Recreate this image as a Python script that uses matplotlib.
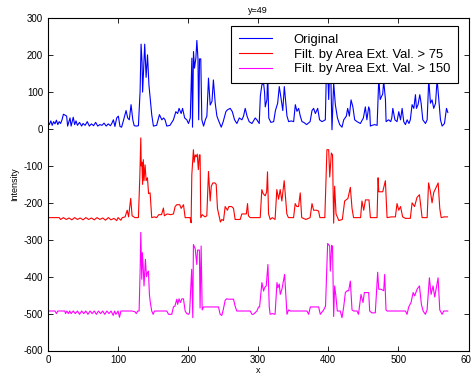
import matplotlib
matplotlib.use("Agg")
import matplotlib.pyplot as plt

plt.rcParams['font.family'] = ['Liberation Sans', 'DejaVu Sans']
plt.rcParams['axes.unicode_minus'] = False

# profile along the line y=49
orig_x = [0, 2, 4, 6, 8, 10, 12, 14, 16, 18, 20, 22, 24, 26.6, 28, 31.4, 33, 36, 38, 40,
          42, 45, 48, 50, 53, 56, 59, 62, 65, 68, 71, 74, 77, 80, 83, 86, 89, 91, 93.3, 95.5,
          98, 100.4, 102.7, 105, 107.5, 111.4, 113.7, 116, 118.5, 121, 123, 126, 129, 131.4, 132.8, 134.2, 135, 136.6, 138, 140,
          142, 144, 146, 148, 150.4, 155, 159, 162.4, 165, 167, 169.5, 174, 179, 182.4, 185, 187, 190, 192, 195, 198,
          200.5, 203, 205.3, 206.2, 207.6, 209, 211, 212.4, 214, 215, 216.2, 218, 219.5, 222, 224.5, 226.7, 229, 231.4, 234, 236,
          238.6, 241, 244, 247.2, 250, 253.8, 256, 260, 263, 266.2, 269.5, 273, 276.7, 279, 281.4, 284, 287, 291, 295.7, 298,
          301.4, 303, 305.2, 307.6, 309, 310, 312.4, 313.5, 315, 318, 322, 324.5, 327.7, 330, 332.4, 335, 337.2, 338.6, 341, 343.4,
          347, 350.5, 352.9, 355.2, 357.6, 360, 362.4, 365, 369, 374, 376.7, 379, 381.5, 384.8, 387.5, 391, 395.7, 398, 400.5, 402.8,
          405.2, 407.6, 410, 413, 416.2, 419.5, 422, 425.7, 427.6, 430, 432.4, 435, 437.6, 441, 445.7, 450, 452.8, 455, 457.6, 459,
          460, 462.4, 466, 469.6, 472, 474, 477.6, 479, 481.5, 482.4, 486, 489, 490.5, 492, 495, 498, 500.5, 503, 505.3, 507.6,
          510, 512.4, 515, 517, 519.5, 522, 524.3, 525.7, 528, 530.5, 532.4, 534.8, 538.6, 541, 543.3, 545.7, 548, 550.4, 553, 555.2,
          557.6, 560, 562.4, 565.7, 568.6, 570.5]
orig_v = [18, 12, 22, 10, 20, 14, 24, 12, 20, 15, 25, 40, 38, 35, 8, 30, 8, 32, 12, 22,
          10, 18, 8, 15, 10, 20, 8, 14, 9, 18, 8, 12, 10, 16, 8, 14, 9, 15, 25, 7,
          30, 35, 7, 5, 22, 50, 30, 25, 66, 25, 9, 8, 9, 102, 230, 180, 100, 170, 230, 140,
          201, 120, 79, 39, 8, 10, 39, 25, 30, 25, 8, 10, 25, 47, 42, 56, 42, 56, 30, 25,
          15, 30, 192, 5, 210, 165, 192, 240, 190, 25, 190, 190, 25, 8, 25, 35, 138, 65, 75, 133,
          70, 35, 20, 5, 20, 47, 52, 56, 47, 25, 15, 30, 25, 35, 56, 35, 20, 15, 30, 25,
          15, 90, 120, 124, 100, 60, 80, 150, 30, 18, 20, 50, 70, 115, 85, 50, 115, 85, 35, 20,
          22, 20, 66, 48, 56, 35, 20, 18, 12, 20, 50, 56, 42, 56, 25, 20, 25, 220, 80, 210,
          -2, 125, 66, 30, 12, 5, 25, 35, 56, 35, 79, 60, 25, 20, 15, 30, 60, 25, 60, 52,
          8, 10, 12, 10, 140, 80, 95, 130, 80, 20, 25, 20, 30, 56, 25, 20, 47, 25, 56, 20,
          12, 25, 15, 25, 66, 56, 93, 56, 66, 93, 70, 25, 15, 25, 135, 70, 79, 56, 70, 135,
          79, 25, 8, 15, 56, 45]

filt75_x = [0, 16, 18, 22, 26, 30, 34, 38, 42, 46, 50, 54, 58, 62, 66, 70, 74, 78, 82, 86,
            90, 94, 98, 100, 104, 106, 110, 113, 115, 118, 120, 124, 129, 131, 132.4, 133, 134, 135, 136, 137,
            138.5, 140, 141.9, 143.5, 145.7, 148, 152, 155, 158, 162, 164.7, 166, 170, 175, 179, 181.4, 183.8, 188, 190, 193.3,
            195.7, 200, 202.8, 204.2, 205.2, 207.5, 208.5, 210, 211.5, 213, 214.5, 216, 217, 218, 220, 224, 226.6, 229, 231.4, 233,
            235.2, 238, 240, 241.8, 244, 246, 248, 250.4, 252.8, 256, 258, 262, 264.7, 267, 270, 274.2, 276.6, 280, 283, 284.7,
            286, 288.5, 295, 302.8, 305.1, 307, 309.9, 312, 313.2, 314.7, 317, 320, 324, 326.5, 329, 331.3, 333.7, 337, 340.8, 343,
            347, 350.4, 352.7, 355, 357.5, 359.9, 362, 368, 374, 376.7, 379, 383, 386, 388, 395, 398, 400.5, 402, 404.3, 406,
            407.6, 409, 411, 415, 420, 423.3, 428, 431.4, 433.8, 436, 441, 446, 448, 450.5, 453, 458, 460, 465, 469.5, 471,
            472, 477.6, 481.4, 483.8, 490, 495.7, 498, 500.5, 503, 506, 510, 517, 519.5, 523, 526.6, 530, 533.8, 538, 541, 543,
            545.7, 548, 550.4, 556.7, 559, 561, 565, 570]
filt75_v = [10, 10, 5, 10, 5, 9, 4, 10, 5, 9, 4, 10, 5, 9, 4, 10, 5, 9, 3, 10,
            4, 8, 2, 10, 3, 10, 12, 30, 12, 62, 15, 10, 10, 120, 226, 150, 160, 100, 167, 110,
            153, 110, 118, 75, 77, 10, 12, 10, 18, 18, 36, 15, 20, 18, 20, 40, 45, 45, 35, 45,
            10, 10, 10, -4, 126, 194, 160, 180, 175, 182, 140, 180, 180, 10, 18, 12, 15, 135, 55, 95,
            104, 104, 100, 35, 15, -2, 5, 2, 40, 30, 40, 40, 35, 5, 5, 5, 20, 20, 20, 48,
            15, 10, 10, 10, 86, 75, 69, 80, 134, 20, 5, 10, 5, 86, 60, 86, 55, 110, 20, 10,
            10, 10, 48, 40, 40, 77, 10, 5, 10, 48, 30, 30, 28, 10, 10, 194, 194, 120, 185, 180,
            -5, 95, 20, 2, 5, 55, 62, 92, 35, 10, 10, 10, 55, 30, 58, 58, 10, 10, 10, 118,
            80, 80, 110, 10, 12, 12, 48, 30, 40, 12, 8, 8, 50, 40, 65, 72, 10, 10, 10, 104,
            80, 50, 78, 104, 35, 10, 12, 12]

filt150_x = [0, 10, 12, 14, 20, 24, 25, 27, 29, 31, 33, 36, 39, 42, 45, 48, 51, 54, 57, 60,
             63, 66, 69, 72, 75, 78, 81, 84, 87, 90, 93, 95, 97, 100, 102, 104, 106, 120, 124, 126,
             128, 130, 131.5, 132.4, 133.8, 134.7, 136, 137, 139, 140.5, 142, 143.3, 144.7, 146, 148, 150, 152, 169.5, 172, 176.6,
             179, 181, 183.8, 185, 187, 189, 191, 193.3, 195.7, 198, 200.4, 202, 205, 206.6, 207.5, 210, 212.3, 213.3, 216, 217,
             218.5, 220, 221.9, 243.3, 245.6, 248, 250, 252.8, 255, 257.5, 262, 264.7, 267, 269.4, 288.5, 291, 293, 298, 300.5, 301.9,
             303, 305.2, 307.6, 309, 311.4, 313.8, 315.7, 317, 320, 324, 326.7, 328, 330, 331.4, 333.8, 337.6, 341, 343.3, 345.7, 369.5,
             371.9, 374.3, 386.2, 388.5, 393.3, 396, 399, 401.9, 402.8, 404.8, 406, 407.6, 409, 410.9, 412.8, 417, 419.5, 421.9, 424.3, 427,
             429, 431.4, 433.8, 436, 441, 443, 446.6, 449.5, 451.4, 457.6, 459, 462, 467, 470.4, 471.9, 475, 479, 480.4, 482.3, 483.7,
             510, 512.3, 514.7, 518, 521, 523.2, 526.6, 530, 532.8, 535.2, 538.5, 540.9, 544.2, 546.6, 549.4, 551.8, 556.6, 559, 562.3, 564.7,
             570.4]
filt150_v = [7, 7, 0, 7, 7, 7, 0, 7, 0, 7, 0, 7, 0, 7, -2, 7, 0, 7, -2, 7,
             0, 7, -2, 7, 0, 7, -2, 7, 0, 7, -5, 7, -2, 7, -10, 7, 7, 7, 5, 0,
             7, 7, 120, 220, 93, 165, 120, 75, 147, 100, 111, 115, 52, 30, 7, -2, 7, 7, -2, -2,
             18, 20, 39, 25, 40, 30, 40, 40, 7, 0, -2, 2, 120, -11, 187, 176, 133, 172, 172, 15,
             183, 10, 18, 18, -2, -5, 10, 36, 40, 39, 39, 39, 20, 7, 7, -2, -2, 7, 18, 18,
             40, 84, 61, 70, 75, 133, 18, -2, 0, -2, 84, 70, 80, 52, 66, 106, -2, 10, 7, 7,
             -2, 18, 18, -2, 10, 20, 190, 183, 115, 185, 180, -8, 75, 45, 7, 7, -11, 18, 57, 62,
             62, 88, 10, 7, 7, -2, 52, 30, 57, 57, 7, 2, 2, 112, 66, 66, 62, 106, 10, 7,
             7, -2, 18, 30, 57, 48, 66, 75, 25, 7, -2, 10, 97, 52, 75, 45, 97, 10, -2, 7,
             7]

labels = ['Original', 'Filt. by Area Ext. Val. > 75', 'Filt. by Area Ext. Val. > 150']
offsets = [0, -250, -500]

fig = plt.figure(figsize=(4.71, 3.75), dpi=100)
ax = fig.add_axes([48 / 471, 1 - 350.5 / 375, 420.5 / 471, 332.2 / 375])

series = [(orig_x, orig_v, '#0000ff'), (filt75_x, filt75_v, '#ff0000'), (filt150_x, filt150_v, '#ff00ff')]
for (xs, vs, c), off, lab in zip(series, offsets, labels):
    ax.plot(xs, [v + off for v in vs], color=c, lw=0.8, label=lab)

ax.set_xlim(0, 600)
ax.set_ylim(-600, 300)
ax.set_xticks(range(0, 601, 100))
ax.set_yticks(range(-600, 301, 100))
ax.tick_params(direction='in', top=True, right=True, labelsize=7, length=3.5, width=0.6, pad=3.5)
for s in ax.spines.values():
    s.set_linewidth(0.8)

ax.set_title('y=49', fontsize=6.5, pad=4)
ax.set_xlabel('x', fontsize=6.5, labelpad=0.5)
ax.set_ylabel('Intensity', fontsize=6.5, labelpad=3)

leg = ax.legend(loc='upper right', bbox_to_anchor=(1 - 10.5 / 420.5, 1 - 7.7 / 332.2),
                borderaxespad=0, fontsize=9.4, fancybox=False, framealpha=1,
                edgecolor='black', handlelength=2.5, handletextpad=1.7,
                borderpad=0.6, labelspacing=0.2)
leg.get_frame().set_linewidth(0.8)

fig.savefig('out.png', dpi=100)
